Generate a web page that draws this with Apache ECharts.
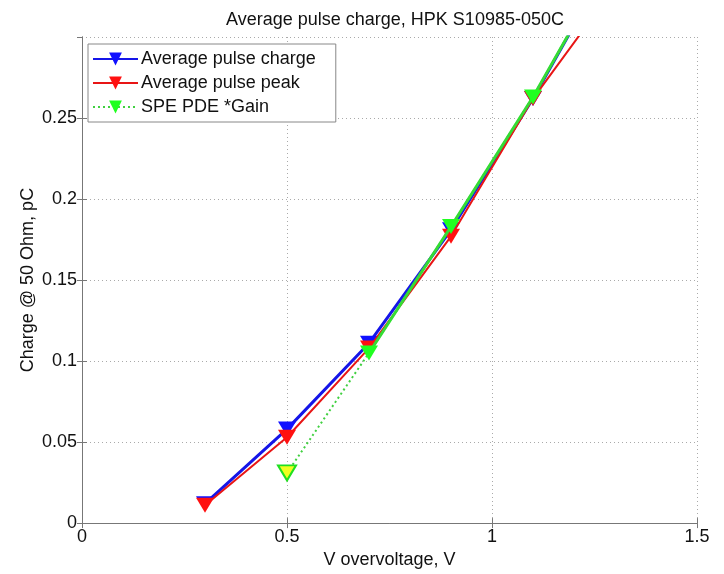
<!DOCTYPE html>
<html>
<head>
<meta charset="utf-8">
<script src="https://cdn.jsdelivr.net/npm/echarts@6/dist/echarts.min.js"></script>
<style>
  html, body { margin: 0; padding: 0; background: #fff; }
  #chart { width: 724px; height: 574px; }
</style>
</head>
<body>
<div id="chart"></div>
<script>
// Overvoltage steps (V)
const overvoltage = [0.3, 0.5, 0.7, 0.9, 1.1, 1.3];
// Charge at 50 Ohm (pC)
const avgPulseCharge = [0.012, 0.058, 0.111, 0.181, 0.262, 0.352];
const avgPulsePeak   = [0.011, 0.053, 0.108, 0.177, 0.262, 0.331];
const spePdeGain     = [null, 0.031, 0.105, 0.183, 0.263, 0.352];
// Axis ticks
const xTicks = { min: 0, max: 1.5, step: 0.5 };
const yTicks = { min: 0, max: 0.3, step: 0.05 };

const FONT = 'Arial, "Liberation Sans", sans-serif';
const pairs = (ys) => overvoltage.map((x, i) => [x, ys[i]]);

const greenPoints = pairs(spePdeGain).filter(p => p[1] !== null);
// first SPE point: yellow face with green edge
const greenData = greenPoints.map((p, i) => i === 0
  ? { value: p, itemStyle: { color: '#f0ff20', borderColor: '#20e020', borderWidth: 2 } }
  : { value: p });

const tri = { symbol: 'triangle', symbolRotate: 180, symbolSize: [18, 15] };

const chart = echarts.init(document.getElementById('chart'));
chart.setOption({
  backgroundColor: '#fff',
  animation: false,
  textStyle: { fontFamily: FONT },
  title: {
    text: 'Average pulse charge, HPK S10985-050C',
    left: 390, top: 6, textAlign: 'center',
    textStyle: { fontFamily: FONT, fontSize: 18, fontWeight: 'normal', color: '#111' }
  },
  legend: {
    left: 88, top: 44,
    orient: 'vertical',
    data: ['Average pulse charge', 'Average pulse peak', 'SPE PDE *Gain'],
    backgroundColor: '#fff',
    borderColor: '#888', borderWidth: 1,
    padding: [6, 20, 6, 4],
    itemWidth: 45, itemHeight: 16, itemGap: 6,
    textStyle: { fontFamily: FONT, fontSize: 18, color: '#111', padding: [0, 0, 0, -2] }
  },
  grid: { left: 82, right: 27, top: 37, bottom: 47 },
  xAxis: [{
    type: 'value', min: xTicks.min, max: xTicks.max, interval: xTicks.step,
    name: 'V overvoltage, V', nameLocation: 'middle', nameGap: 26,
    nameTextStyle: { fontFamily: FONT, fontSize: 18, color: '#111' },
    axisLine: { show: true, lineStyle: { color: '#777', width: 1 } },
    axisTick: { show: true, inside: true, length: 5, lineStyle: { color: '#777' } },
    axisLabel: { fontFamily: FONT, fontSize: 18, color: '#111', margin: 5 },
    splitLine: { show: true, lineStyle: { color: '#aaa', type: [1, 3], width: 1 } }
  }, {
    type: 'value', position: 'top', min: xTicks.min, max: xTicks.max, interval: xTicks.step,
    axisLine: { show: true, lineStyle: { color: '#777', width: 1 } },
    axisTick: { show: true, inside: true, length: 5, lineStyle: { color: '#777' } },
    axisLabel: { show: false }, splitLine: { show: false }
  }],
  yAxis: [{
    type: 'value', min: yTicks.min, max: yTicks.max, interval: yTicks.step,
    name: 'Charge @ 50 Ohm, pC', nameLocation: 'middle', nameGap: 45,
    nameMoveOverlap: false,
    nameTextStyle: { fontFamily: FONT, fontSize: 18, color: '#111' },
    axisLine: { show: true, lineStyle: { color: '#777', width: 1 } },
    axisTick: { show: true, inside: true, length: 5, lineStyle: { color: '#777' } },
    axisLabel: { fontFamily: FONT, fontSize: 18, color: '#111', margin: 5, showMaxLabel: false },
    splitLine: { show: true, lineStyle: { color: '#aaa', type: [1, 3], width: 1 } }
  }, {
    type: 'value', position: 'right', min: yTicks.min, max: yTicks.max, interval: yTicks.step,
    axisLine: { show: true, lineStyle: { color: '#777', width: 1 } },
    axisTick: { show: true, inside: true, length: 5, lineStyle: { color: '#777' } },
    axisLabel: { show: false }, splitLine: { show: false }
  }],
  series: [
    Object.assign({
      name: 'Average pulse charge', type: 'line', data: pairs(avgPulseCharge),
      clip: true, z: 2,
      lineStyle: { color: '#1515e8', width: 3 },
      itemStyle: { color: '#1010ff' }
    }, tri),
    Object.assign({
      name: 'Average pulse peak', type: 'line', data: pairs(avgPulsePeak),
      clip: true, z: 3,
      lineStyle: { color: '#e81515', width: 2 },
      itemStyle: { color: '#ff1010' }
    }, tri),
    // solid trace from 0.7 V upward
    {
      name: 'SPE PDE *Gain (solid)', type: 'line', data: greenPoints.slice(1),
      clip: true, z: 4, symbol: 'none',
      lineStyle: { color: '#30e030', width: 3 }
    },
    Object.assign({
      name: 'SPE PDE *Gain', type: 'line', data: greenData,
      clip: true, z: 5,
      lineStyle: { color: '#40d040', width: 2, type: [2, 3] },
      itemStyle: { color: '#20ff20' }
    }, tri)
  ]
});
</script>
</body>
</html>
